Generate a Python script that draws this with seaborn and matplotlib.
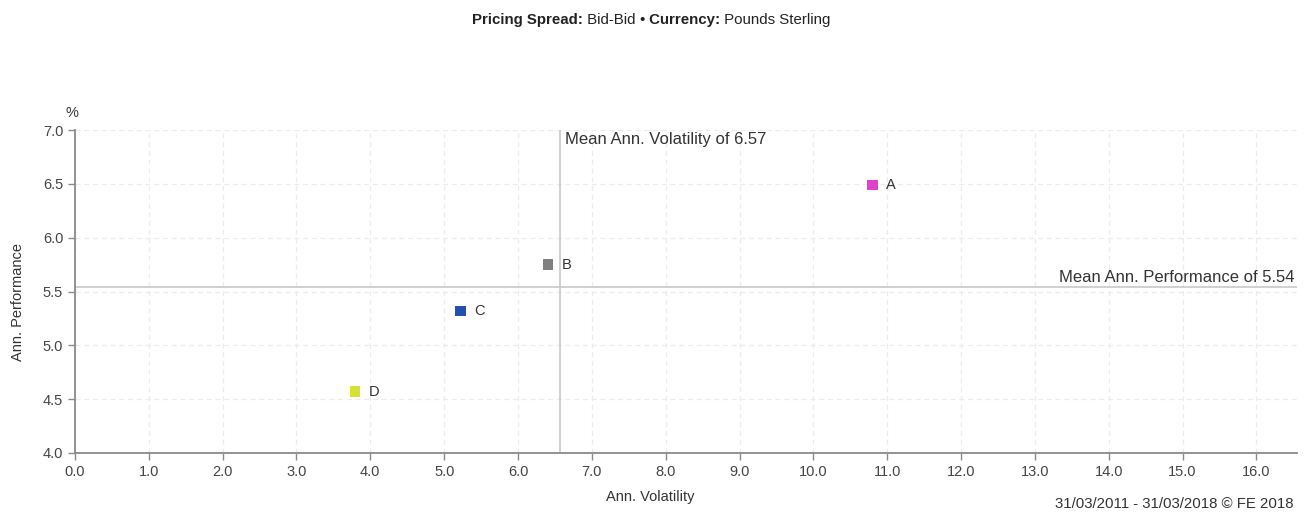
import matplotlib
matplotlib.use("Agg")
import matplotlib.pyplot as plt
import pandas as pd
import seaborn as sns
from matplotlib.ticker import FormatStrFormatter, MultipleLocator

# values
funds = ["A", "B", "C", "D"]
volatility = [10.80, 6.41, 5.22, 3.79]
performance = [6.49, 5.75, 5.32, 4.57]
colours = ["#e040d0", "#808080", "#2050b0", "#d8e030"]

mean_volatility = 6.57
mean_performance = 5.54

title_parts = [("Pricing Spread:", "bold"), (" Bid-Bid ", "normal"), ("•", "normal"),
               (" Currency:", "bold"), (" Pounds Sterling", "normal")]

df = pd.DataFrame({"fund": funds, "Ann. Volatility": volatility, "Ann. Performance": performance})

sns.set_style("white")
plt.rcParams["font.family"] = ["Liberation Sans", "DejaVu Sans"]

fig = plt.figure(figsize=(13.08, 5.18), dpi=100)
ax = fig.add_axes([0.0573, 0.1255, 0.9343, 0.6235])

sns.scatterplot(df, x="Ann. Volatility", y="Ann. Performance", hue="fund",
                palette=dict(zip(funds, colours)), marker="s", s=55,
                edgecolor="none", legend=False, ax=ax, zorder=3)

for f, x, y in zip(funds, volatility, performance):
    ax.annotate(f, (x, y), xytext=(10, 0), textcoords="offset points",
                va="center", ha="left", fontsize=10.5, color="#333333")

ax.axvline(mean_volatility, color="#c8c8c8", lw=1.2, zorder=2)
ax.axhline(mean_performance, color="#c8c8c8", lw=1.2, zorder=2)
ax.text(mean_volatility + 0.06, 6.98, f"Mean Ann. Volatility of {mean_volatility:.2f}",
        va="top", ha="left", fontsize=12, color="#333333")
ax.text(16.52, mean_performance + 0.02, f"Mean Ann. Performance of {mean_performance:.2f}",
        va="bottom", ha="right", fontsize=12, color="#333333")

ax.set_xlim(0, 16.55)
ax.set_ylim(4.0, 7.0)
ax.xaxis.set_major_locator(MultipleLocator(1.0))
ax.yaxis.set_major_locator(MultipleLocator(0.5))
ax.xaxis.set_major_formatter(FormatStrFormatter("%.1f"))
ax.yaxis.set_major_formatter(FormatStrFormatter("%.1f"))
ax.grid(True, ls=(0, (4, 3)), color="#ececec", lw=0.9)

for side in ["top", "right"]:
    ax.spines[side].set_visible(False)
for side in ["left", "bottom"]:
    ax.spines[side].set_color("#8a8a8a")
    ax.spines[side].set_linewidth(1.3)
ax.tick_params(direction="out", length=5, width=1, color="#8a8a8a",
               labelsize=10.5, labelcolor="#444444", bottom=True, left=True)

ax.set_xlabel("Ann. Volatility", fontsize=10.5, color="#333333")
ax.xaxis.set_label_coords(0.471, -0.115)
ax.set_ylabel("Ann. Performance", fontsize=10.5, color="#333333")
ax.yaxis.set_label_coords(-0.041, 0.467)
ax.text(-0.008, 1.03, "%", transform=ax.transAxes, ha="left", va="bottom",
        fontsize=10.5, color="#333333")

# title made of bold and normal pieces, laid out side by side
fig.canvas.draw()
renderer = fig.canvas.get_renderer()
pieces = [fig.text(0, 0.962, s, fontweight=w, fontsize=10.8, color="#222222", va="center")
          for s, w in title_parts]
widths = [p.get_window_extent(renderer).width for p in pieces]
x = (651 - sum(widths) / 2) / fig.bbox.width
for p, w in zip(pieces, widths):
    p.set_x(x)
    x += w / fig.bbox.width

fig.text(0.989, 0.013, "31/03/2011 - 31/03/2018 © FE 2018", ha="right", va="bottom",
         fontsize=10.8, color="#333333")

fig.savefig("out.png", dpi=100)
